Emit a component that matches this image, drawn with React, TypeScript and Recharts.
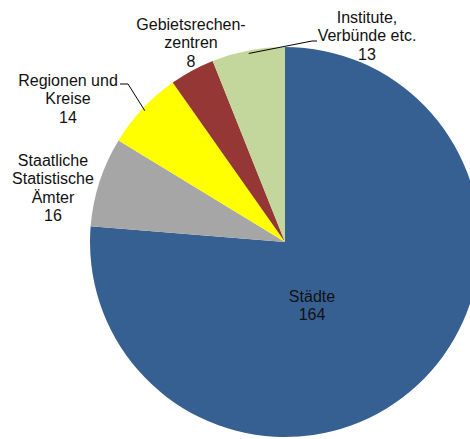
import React from "react";
import { PieChart, Pie, Cell } from "recharts";

const categories = [
  "Städte",
  "Staatliche Statistische Ämter",
  "Regionen und Kreise",
  "Gebietsrechenzentren",
  "Institute, Verbünde etc.",
];
const values = [164, 16, 14, 8, 13];
const labelLines: string[][] = [
  ["Städte"],
  ["Staatliche", "Statistische", "Ämter"],
  ["Regionen und", "Kreise"],
  ["Gebietsrechen-", "zentren"],
  ["Institute,", "Verbünde etc."],
];
const colors = ["#376092", "#A6A6A6", "#FFFF00", "#953735", "#C3D69B"];

const data = categories.map((name, i) => ({ name, value: values[i] }));

// label block placement relative to pie centre (first line centre)
const labelOffsets = [
  { dx: 27, dy: 54 },
  { dx: -232, dy: -82 },
  { dx: -217, dy: -162 },
  { dx: -94, dy: -218 },
  { dx: 82, dy: -225 },
];
// leader lines: elbow and end relative to centre (null = none)
const leaders: ({ ex: number; ey: number; hx: number } | null)[] = [
  null,
  null,
  { ex: -157, ey: -158, hx: -165 },
  null,
  { ex: 27, ey: -201, hx: 32 },
];

const RAD = Math.PI / 180;
const LH = 18.5;

const renderLabel = (props: any) => {
  const { cx, cy, midAngle, outerRadius, index } = props;
  const off = labelOffsets[index];
  const lines = [...labelLines[index], String(values[index])];
  const x = cx + off.dx;
  const y0 = cy + off.dy;
  const ld = leaders[index];
  let line = null;
  if (ld) {
    const r = outerRadius - 3;
    const px = cx + r * Math.cos(-midAngle * RAD);
    const py = cy + r * Math.sin(-midAngle * RAD);
    const pts = `${px},${py} ${cx + ld.ex},${cy + ld.ey} ${cx + ld.hx},${cy + ld.ey}`;
    line = <polyline points={pts} fill="none" stroke="#000" strokeWidth={1} />;
  }
  return (
    <g key={`lbl-${index}`}>
      {line}
      {lines.map((t, i) => (
        <text
          key={i}
          x={x}
          y={y0 + i * LH}
          textAnchor="middle"
          dominantBaseline="central"
          fontFamily="'Liberation Sans', Arial, sans-serif"
          fontSize={16}
          fill="#111"
        >
          {t}
        </text>
      ))}
    </g>
  );
};

export default function App() {
  return (
    <div style={{ position: "absolute", left: 0, top: 0, width: 470, height: 439, background: "#fff", overflow: "hidden" }}>
      <PieChart width={470} height={439} margin={{ top: 0, right: 0, bottom: 0, left: 0 }}>
        <Pie
          data={data}
          dataKey="value"
          nameKey="name"
          cx={285}
          cy={242}
          outerRadius={195}
          startAngle={90}
          endAngle={-270}
          stroke="none"
          isAnimationActive={false}
          labelLine={false}
          label={renderLabel}
        >
          {data.map((d, i) => (
            <Cell key={d.name} fill={colors[i]} stroke="none" />
          ))}
        </Pie>
      </PieChart>
    </div>
  );
}
